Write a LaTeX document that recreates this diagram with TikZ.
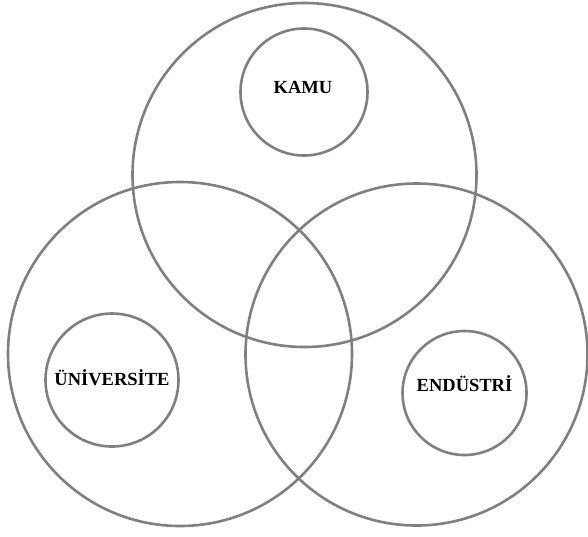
\documentclass[tikz,border=0pt]{standalone}
\usepackage{fontspec}
\setmainfont{Liberation Serif}
\definecolor{ringgray}{RGB}{128,128,128}
\begin{document}
\begin{tikzpicture}[x=1pt,y=-1pt,
  ring/.style={draw=ringgray, line width=2.6pt, circle, inner sep=0pt},
  lbl/.style={font=\fontsize{18.5}{20}\selectfont\bfseries, anchor=base, inner sep=0pt}]
\useasboundingbox[fill=white] (0,0) rectangle (588,536);
% big circles
\node[ring, minimum size=344pt] (topbig) at (304.5,175) {};
\node[ring, minimum size=344pt] (leftbig) at (180,354) {};
\node[ring, minimum size=342pt] (rightbig) at (416.5,354.5) {};
% small circles
\node[ring, minimum size=127pt] (kamuc) at (304,92) {};
\node[ring, minimum size=133pt] (univc) at (112,380) {};
\node[ring, minimum size=124pt] (endc) at (464.5,393) {};
% labels
\node[lbl] (kamu) at (303,93) {KAMU};
\node[lbl] (univ) at (112,385) {ÜNİVERSİTE};
\node[lbl] (end) at (464.5,391) {ENDÜSTRİ};
\end{tikzpicture}
\end{document}
